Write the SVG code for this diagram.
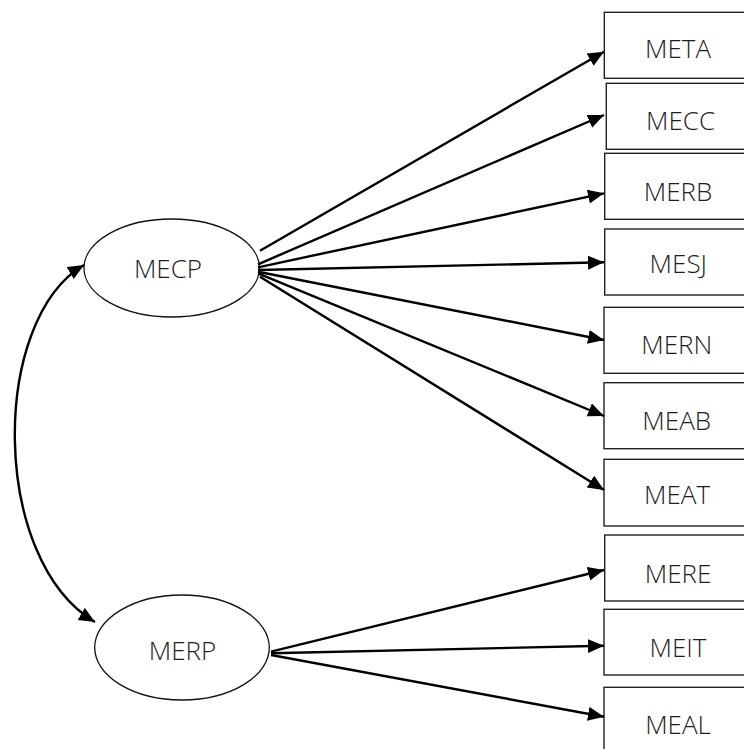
<svg xmlns="http://www.w3.org/2000/svg" width="744" height="749" viewBox="0 0 744 749">
  <style>
    .box { fill: #ffffff; stroke: #222222; stroke-width: 1.4; }
    .lat { fill: #ffffff; stroke: #111111; stroke-width: 1.3; }
    .lbl { font-family: "Open Sans", "Segoe UI", "DejaVu Sans", sans-serif; font-size: 26px; font-weight: 300; fill: #1e1e1e; text-anchor: middle; }
    .edge { fill: none; stroke: #000000; stroke-width: 2.4; }
  </style>
  <defs>
    <marker id="head" markerUnits="userSpaceOnUse" markerWidth="18" markerHeight="15" refX="16" refY="7" orient="auto-start-reverse">
      <path d="M0,0 L16,7 L0,14 z" fill="#000000"/>
    </marker>
  </defs>
  <rect width="744" height="749" fill="#ffffff"/>

  <!-- observed indicators -->
  <g id="META"><rect class="box" x="604.3" y="12.3" width="150" height="66"/><text class="lbl" x="678" y="58.3">META</text></g>
  <g id="MECC"><rect class="box" x="606.3" y="83.3" width="150" height="66"/><text class="lbl" x="680.5" y="130">MECC</text></g>
  <g id="MERB"><rect class="box" x="604.7" y="153.3" width="150" height="66"/><text class="lbl" x="678" y="200.7">MERB</text></g>
  <g id="MESJ"><rect class="box" x="604.7" y="229" width="150" height="66"/><text class="lbl" x="678.3" y="273.3">MESJ</text></g>
  <g id="MERN"><rect class="box" x="604" y="307.3" width="150" height="66"/><text class="lbl" x="676.7" y="354.3">MERN</text></g>
  <g id="MEAB"><rect class="box" x="604" y="382.7" width="150" height="66"/><text class="lbl" x="676.7" y="430">MEAB</text></g>
  <g id="MEAT"><rect class="box" x="604" y="459.3" width="150" height="66.7"/><text class="lbl" x="677" y="504">MEAT</text></g>
  <g id="MERE"><rect class="box" x="604.7" y="535" width="150" height="66"/><text class="lbl" x="678" y="582.7">MERE</text></g>
  <g id="MEIT"><rect class="box" x="604" y="609.3" width="150" height="65.7"/><text class="lbl" x="678" y="656.7">MEIT</text></g>
  <g id="MEAL"><rect class="box" x="604" y="687.3" width="150" height="66"/><text class="lbl" x="678" y="734.3">MEAL</text></g>

  <!-- latent factors -->
  <g id="MECP"><ellipse class="lat" cx="171.7" cy="268" rx="87.7" ry="49"/><text class="lbl" x="168" y="278.3">MECP</text></g>
  <g id="MERP"><ellipse class="lat" cx="182" cy="647.5" rx="87.3" ry="52.5"/><text class="lbl" x="182.5" y="660">MERP</text></g>

  <!-- paths -->
  <g id="connectors">
    <path class="edge" d="M84,265 C-10,320 -10,560 95,622" marker-start="url(#head)" marker-end="url(#head)"/>
    <line class="edge" x1="260" y1="250.7" x2="604" y2="51.7" marker-end="url(#head)"/>
    <line class="edge" x1="258" y1="264.3" x2="604" y2="115" marker-end="url(#head)"/>
    <line class="edge" x1="258" y1="267.3" x2="604" y2="193.3" marker-end="url(#head)"/>
    <line class="edge" x1="258" y1="270" x2="604" y2="262.3" marker-end="url(#head)"/>
    <line class="edge" x1="258" y1="271.7" x2="604" y2="340" marker-end="url(#head)"/>
    <line class="edge" x1="258" y1="273.3" x2="604" y2="416" marker-end="url(#head)"/>
    <line class="edge" x1="260" y1="276.7" x2="604" y2="490" marker-end="url(#head)"/>
    <line class="edge" x1="271" y1="651.7" x2="604" y2="570" marker-end="url(#head)"/>
    <line class="edge" x1="271" y1="653.3" x2="604" y2="645.7" marker-end="url(#head)"/>
    <line class="edge" x1="271" y1="655" x2="604" y2="716.7" marker-end="url(#head)"/>
  </g>
</svg>
